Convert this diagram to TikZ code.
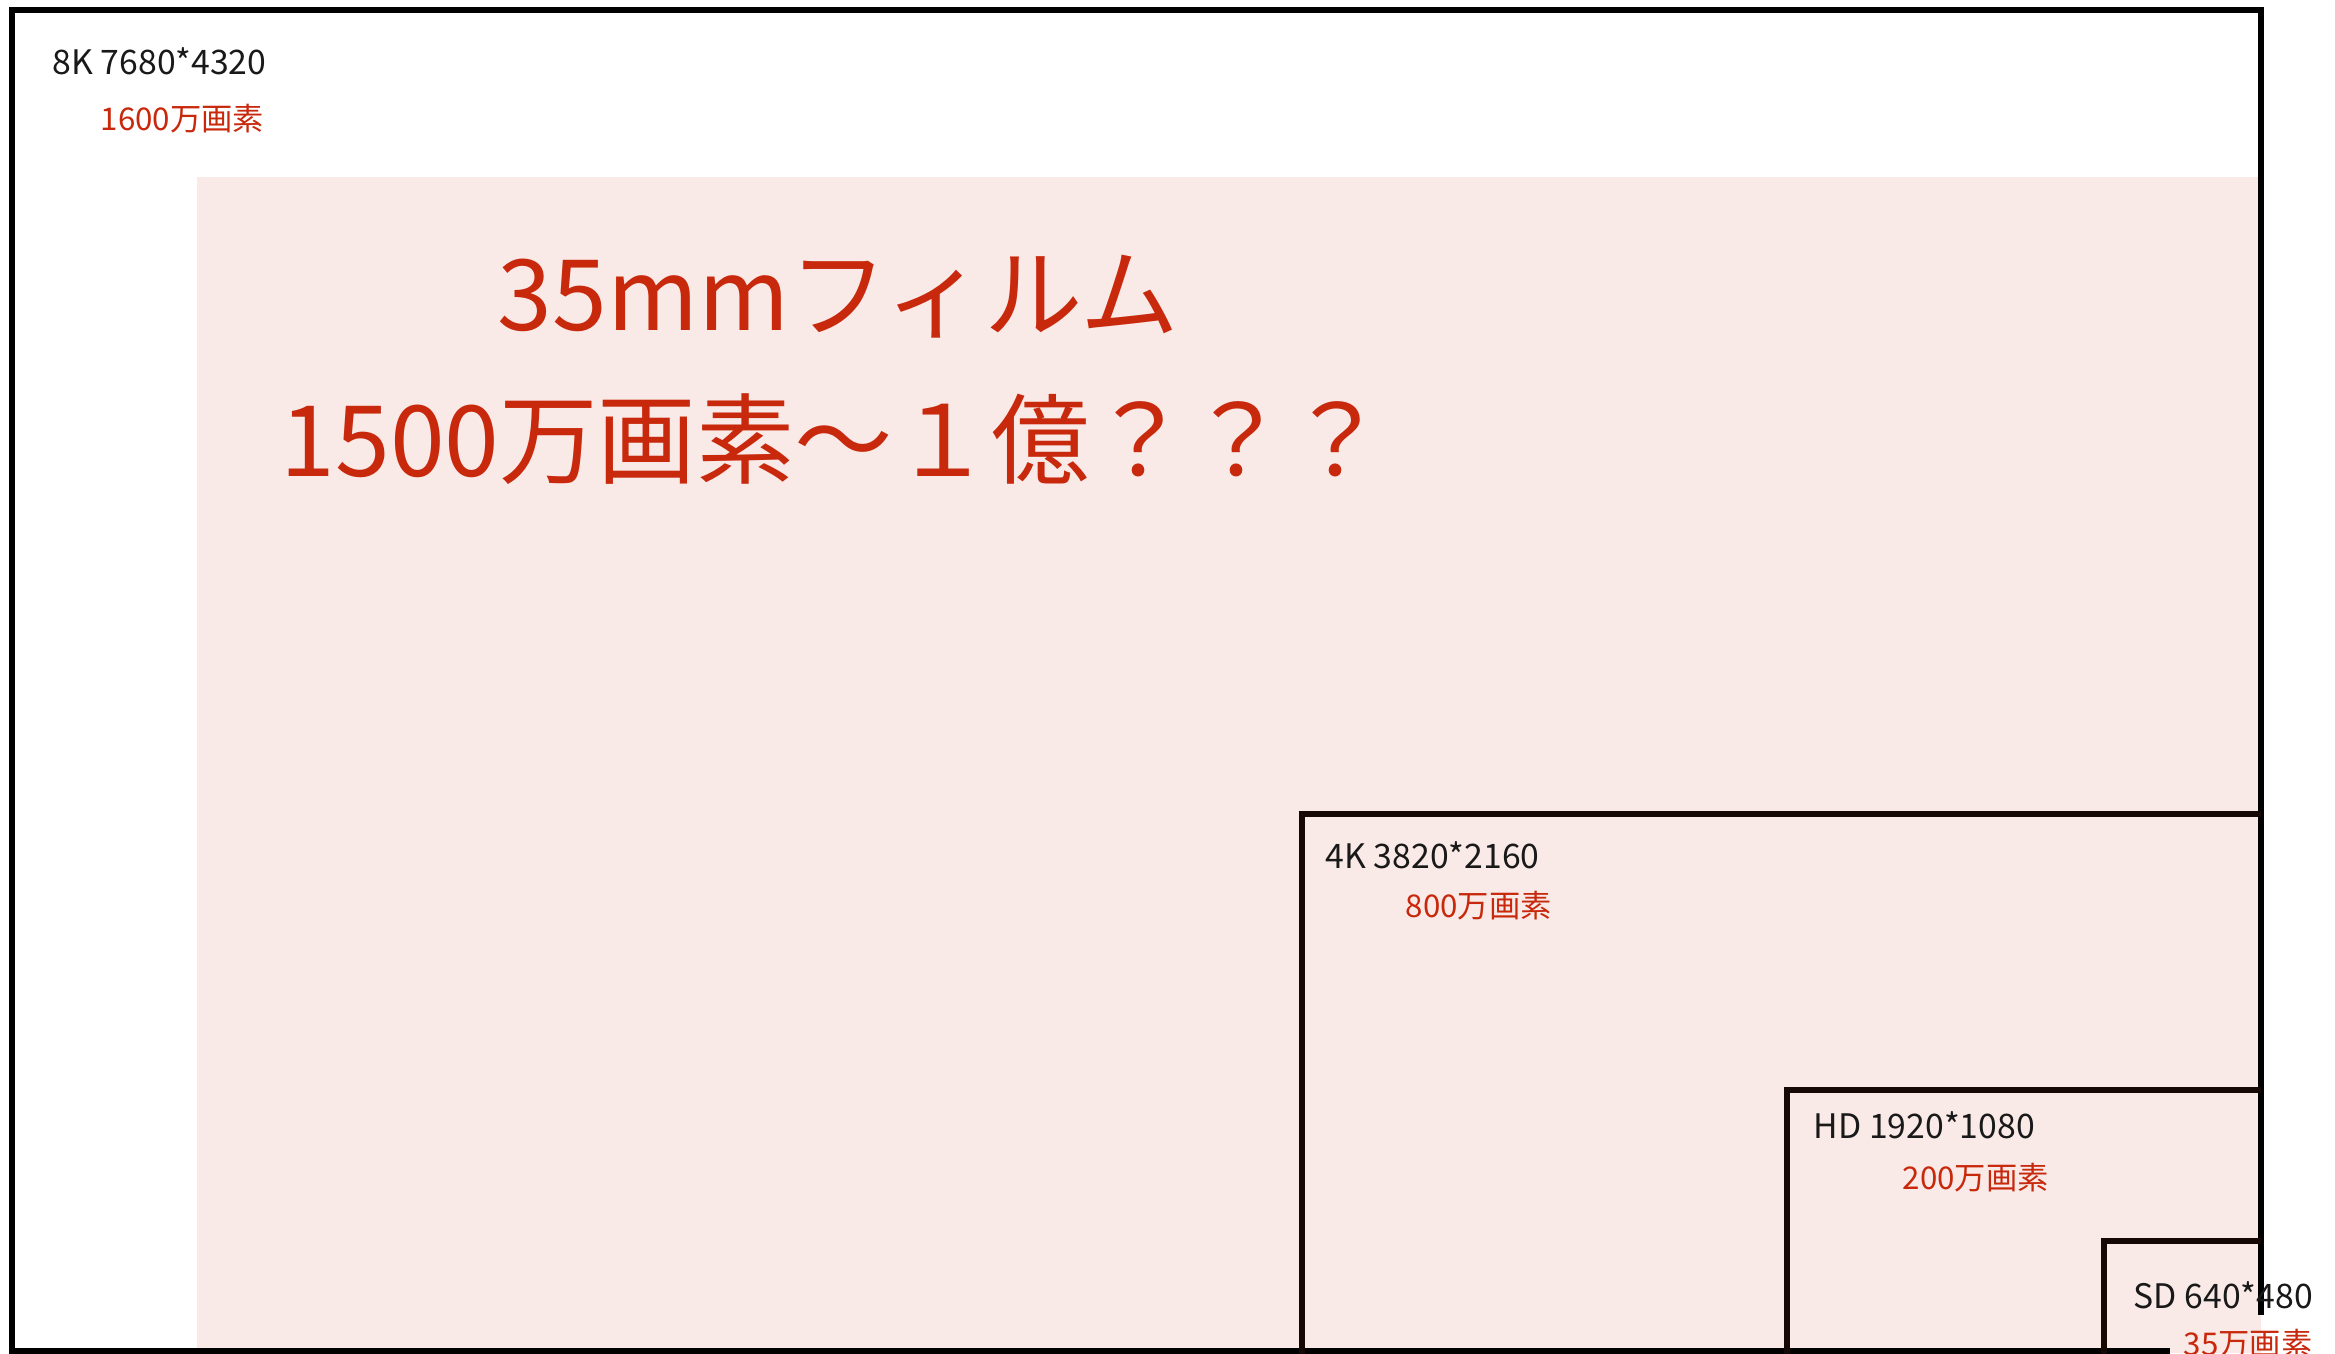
\documentclass[tikz,border=0pt]{standalone}
\usepackage{fontspec}
\setmainfont{Noto Sans CJK JP}
\usepackage{xcolor}
\usetikzlibrary{positioning}
\definecolor{filmred}{RGB}{200,40,12}
\definecolor{filmpink}{RGB}{249,234,231}
\definecolor{boxbrown}{RGB}{22,8,5}

\begin{document}
\begin{tikzpicture}[
    x=0.01cm, y=-0.01cm,
    % 解像度ラベルと画素数ラベル
    res_label/.style={anchor=base west, inner sep=0pt, font=\fontsize{9.6}{11}\selectfont, text=black!90},
    pix_label/.style={anchor=base west, inner sep=0pt, font=\fontsize{8.9}{11}\selectfont, text=filmred},
    film_label/.style={anchor=base west, inner sep=0pt, font=\fontsize{28}{32}\selectfont, text=filmred},
    % 枠線
    frame_line/.style={line width=1.7pt, draw=black},
    box_line/.style={line width=1.7pt, draw=boxbrown}
]
    \useasboundingbox (0,0) rectangle (2335,1353);

    % --- 1. フィルムの領域 ---
    \fill[filmpink] (197,177) rectangle (2261,1353);

    % --- 2. 8K の外枠 ---
    \draw[frame_line] (2261,1315) -- (2261,10) -- (12,10) -- (12,1351) -- (2170,1351);
    \node[res_label] (k8) at (52,74) {8K 7680*4320};
    \node[pix_label] (k8px) at (100,130) {1600万画素};

    % --- 3. 35mmフィルム ---
    \node[film_label] (film1) at (497,330) {35mmフィルム};
    \node[film_label] (film2) at (280,476) {1500万画素〜１億？？？};

    % --- 4. 4K / HD / SD の枠 ---
    \draw[box_line] (1302,1360) -- (1302,814) -- (2261,814);
    \draw[box_line] (1787,1360) -- (1787,1090) -- (2261,1090);
    \draw[box_line] (2104,1360) -- (2104,1241) -- (2261,1241);

    \node[res_label] (k4) at (1325,868) {4K 3820*2160};
    \node[pix_label] (k4px) at (1405,917) {800万画素};

    \node[res_label] (hd) at (1813,1138) {HD 1920*1080};
    \node[pix_label] (hdpx) at (1902,1189) {200万画素};

    \node[res_label] (sd) at (2133,1308) {SD 640*480};
    \node[pix_label] (sdpx) at (2183,1355) {35万画素};

\end{tikzpicture}
\end{document}
